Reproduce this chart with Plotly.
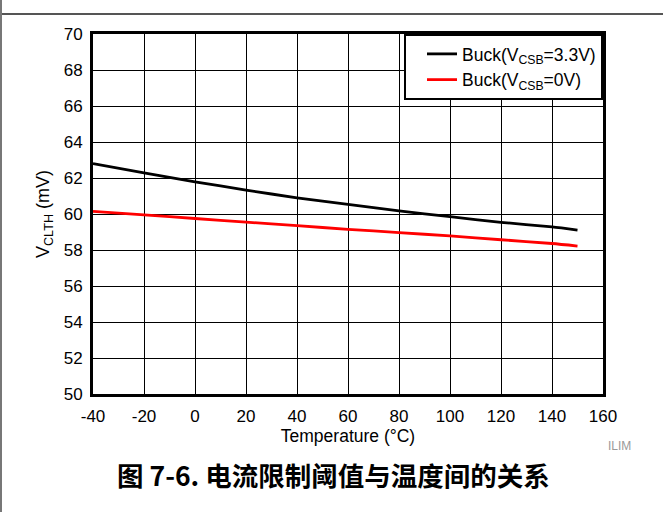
import plotly.graph_objects as go

# Current-limit threshold vs. temperature
temperature_c = [-40, -20, 0, 20, 40, 60, 80, 100, 120, 140, 150]
vclth_csb_3v3 = [62.80, 62.29, 61.79, 61.33, 60.90, 60.54, 60.17, 59.85, 59.54, 59.28, 59.11]
vclth_csb_0v = [60.15, 59.95, 59.75, 59.55, 59.35, 59.15, 58.97, 58.78, 58.57, 58.36, 58.22]

series_names = ["Buck(V<sub>CSB</sub>=3.3V)", "Buck(V<sub>CSB</sub>=0V)"]
series_colors = ["#000000", "#ff0000"]

x_ticks = list(range(-40, 161, 20))
y_ticks = list(range(50, 71, 2))

FONT = "Liberation Sans, Arial, sans-serif"
CJK = "Noto Sans CJK SC, sans-serif"

fig = go.Figure()
for name, ys, color in zip(series_names, [vclth_csb_3v3, vclth_csb_0v], series_colors):
    fig.add_trace(go.Scatter(
        x=temperature_c, y=ys, name=name, mode="lines",
        line=dict(color=color, width=2.8, shape="spline", smoothing=0.6),
    ))

fig.update_layout(
    width=663, height=512,
    margin=dict(l=93, r=60, t=34, b=118),
    paper_bgcolor="white", plot_bgcolor="white",
    font=dict(family=FONT, size=17, color="black"),
    showlegend=True,
    legend=dict(
        x=1, y=1, xanchor="right", yanchor="top",
        bgcolor="white", bordercolor="black", borderwidth=2,
        font=dict(family=FONT, size=17.5, color="black"),
        tracegroupgap=0, itemwidth=30, indentation=16,
    ),
    xaxis=dict(
        range=[-40, 160], tickvals=x_ticks, ticktext=[str(v) for v in x_ticks],
        showgrid=True, gridcolor="black", gridwidth=1,
        showline=True, linecolor="black", linewidth=3, mirror=True,
        ticks="", zeroline=False, ticklabelstandoff=5,
        tickfont=dict(size=17),
        title=dict(text="Temperature (°C)", font=dict(size=17.5), standoff=2),
    ),
    yaxis=dict(
        range=[50, 70], tickvals=y_ticks, ticktext=[str(v) for v in y_ticks],
        showgrid=True, gridcolor="black", gridwidth=1,
        showline=True, linecolor="black", linewidth=3, mirror=True,
        ticks="", zeroline=False, ticklabelstandoff=4,
        tickfont=dict(size=17),
        title=dict(text="V<sub>CLTH</sub> (mV)", font=dict(size=18), standoff=10),
    ),
)

# Page frame: top rule and left edge
fig.add_shape(type="line", xref="paper", yref="paper",
              x0=-0.185, x1=1.2, y0=(394 - 14) / 360, y1=(394 - 14) / 360,
              line=dict(color="#555555", width=2))
fig.add_shape(type="line", xref="paper", yref="paper",
              x0=(1 - 93) / 510, x1=(1 - 93) / 510, y0=-0.4, y1=1.2,
              line=dict(color="#777777", width=2))

fig.add_annotation(text="ILIM", xref="paper", yref="paper",
                   x=(619 - 93) / 510, y=(394 - 446) / 360,
                   xanchor="center", yanchor="middle",
                   showarrow=False, font=dict(family=FONT, size=12, color="#999999"))
fig.add_annotation(text="<b>图 7-6. 电流限制阈值与温度间的关系</b>", xref="paper", yref="paper",
                   x=(333 - 93) / 510, y=(394 - 474) / 360,
                   xanchor="center", yanchor="middle",
                   showarrow=False, font=dict(family=CJK, size=26.5, color="black"))

fig.write_html("out.html")
